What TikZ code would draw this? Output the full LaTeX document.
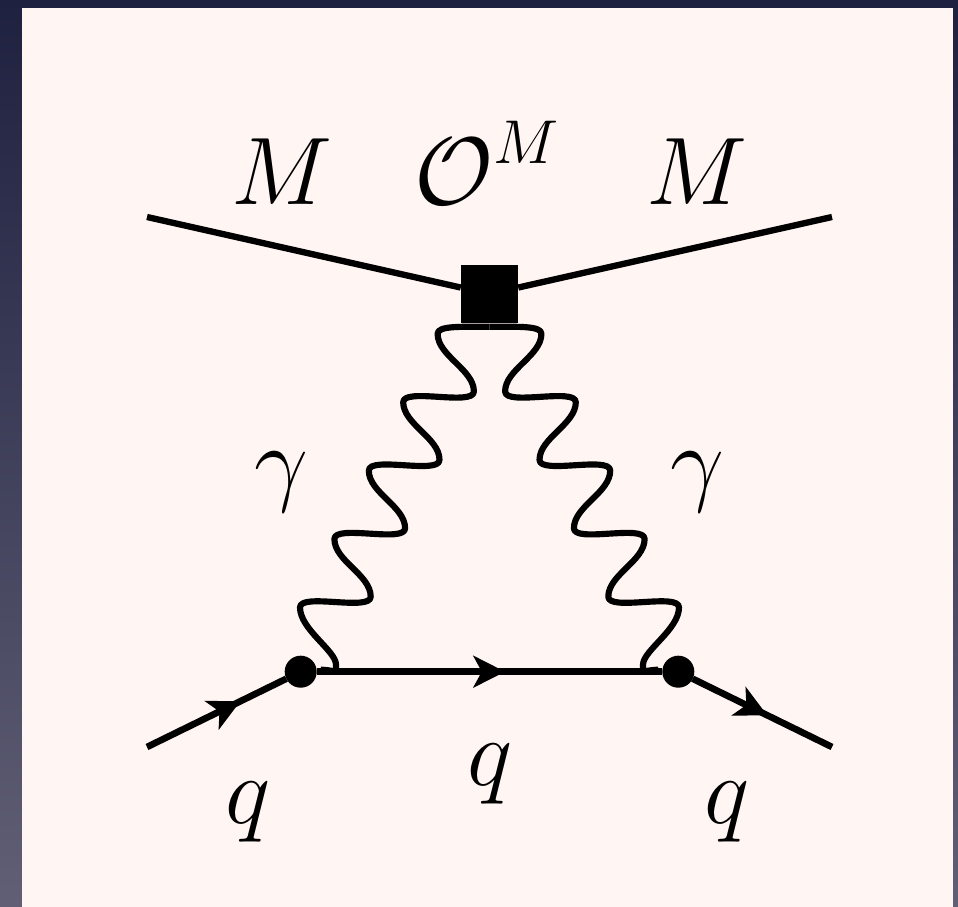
\documentclass[tikz,border=0pt]{standalone}
\usepackage{fix-cm}
\usepackage{amsmath, amsfonts, amssymb}
\usetikzlibrary{arrows.meta, positioning, calc, decorations.markings}
\definecolor{slidetop}{RGB}{31, 33, 64}
\definecolor{slidelow}{RGB}{96, 95, 117}
\definecolor{panelpink}{RGB}{255, 245, 243}
\DeclareMathSizes{27.3}{27.3}{17.6}{13}
\tikzset{
  label text/.style={anchor=base, inner sep=0pt, font=\fontsize{27.3}{30}\selectfont},
  scalar/.style={line width=1.8pt},
  vertex/.style={circle, fill=black, inner sep=0pt, outer sep=0pt, minimum size=0.32cm},
  insertion/.style={rectangle, fill=black, inner sep=0pt, outer sep=0pt, minimum size=0.575cm},
  fermion/.style={line width=1.9pt, postaction={decorate, decoration={markings,
      mark=at position #1 with {\arrow{Stealth[length=9pt, width=9pt, inset=2.4pt]}}}}},
  photon/.style={line width=1.75pt, line join=round, to path={
      ($(\tikztostart)+(#1*20,2)$)
      .. controls +(#1*12,0) and +(#1*1,-10) .. ++(#1*15.3,5)
      .. controls +(0,14) and +(0,-22) .. ++(#1*-36,57.3)
      \foreach \k in {1,...,4} {
        .. controls +(0,15) and +(0,-15) .. ++(#1*70.7,10.7)
        .. controls +(0,22) and +(0,-22) .. ++(#1*-36.3,57.7)
      }
      .. controls +(0,8) and +(#1*-30,0) .. ($(\tikztotarget)+(0,-4)$)
  }}
}
\begin{document}
\begin{tikzpicture}[x=0.01cm, y=0.01cm]
  \useasboundingbox (0,0) rectangle (958,906);
  % backdrop and panel
  \shade[top color=slidetop, bottom color=slidelow] (0,0) rectangle (958,906);
  \fill[panelpink] (21.5,-2) rectangle (953,898);

  % vertices
  \node[insertion] (opM) at (489.5,612) {};
  \node[vertex] (vl) at (300.7,234.3) {};
  \node[vertex] (vr) at (678.3,234.3) {};
  \coordinate (mesonl) at (147,689);
  \coordinate (mesonr) at (832,689);
  \coordinate (quarkin) at (147,159);
  \coordinate (quarkout) at (832,159);

  % lines
  \draw[scalar] (mesonl) -- (opM);
  \draw[scalar] (mesonr) -- (opM);
  \draw[fermion=0.67] (quarkin) -- (vl);
  \draw[fermion=0.545] (vl) -- (vr);
  \draw[fermion=0.535] (vr) -- (quarkout);
  \draw[photon=1] (vl) to (opM.south);
  \draw[photon=-1] (vr) to (opM.south);

  % labels
  \node[label text] (labMl) at (282,701) {$M$};
  \node[label text] (labO) at (487,701) {$\mathcal{O}^{\raisebox{2pt}{$\scriptstyle M$}}$};
  \node[label text] (labMr) at (697,701) {$M$};
  \node[label text] (labgl) at (281,412) {$\gamma$};
  \node[label text] (labgr) at (697,412) {$\gamma$};
  \node[label text] (labql) at (248,83) {$q$};
  \node[label text] (labqm) at (490,121) {$q$};
  \node[label text] (labqr) at (727,83) {$q$};
\end{tikzpicture}
\end{document}
